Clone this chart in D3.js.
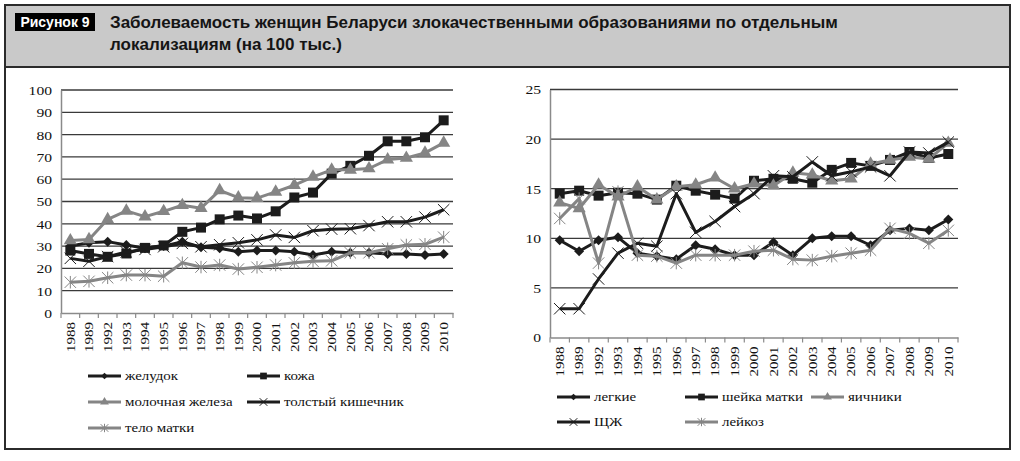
<!DOCTYPE html>
<html><head><meta charset="utf-8">
<script src="https://cdn.jsdelivr.net/npm/d3@7"></script>
<style>body{margin:0;background:#fff}svg{display:block}</style>
</head><body>
<svg id="c" width="1020" height="461"></svg>
<script>
const years = ["1988","1989","1992","1993","1994","1995","1996","1997","1998","1999","2000","2001","2002","2003","2004","2005","2006","2007","2008","2009","2010"];
const leftTicks = [0,10,20,30,40,50,60,70,80,90,100];
const rightTicks = [0,5,10,15,20,25];

// left chart series
const stomach = [30, 31.5, 32, 30.5, 29, 30, 32, 29.5, 29, 27.5, 28, 28, 27.5, 26, 27.5, 27, 27, 26.5, 26.5, 26, 26.5];
const skin = [28, 26.5, 25.2, 26.7, 29.2, 30.3, 36.4, 38.3, 42, 43.7, 42.4, 45.6, 51.8, 54, 62.5, 66, 70.5, 77, 77, 78.8, 86.4];
const breast = [32.5, 33, 42, 45.8, 43.2, 45.6, 48.3, 47, 55, 51.7, 51.5, 54.3, 57.3, 61, 64.2, 64.2, 64.8, 68.8, 69.5, 71.8, 76.3];
const colon = [24.5, 23.2, 25.3, 27.4, 28.5, 29.7, 31.2, 29.7, 30.6, 31.5, 32.8, 35.0, 33.9, 36.9, 37.6, 37.8, 39.2, 40.9, 40.9, 43.0, 46.3];
const uterus = [13.8, 14.2, 15.8, 17, 17, 16.5, 22.5, 20.6, 21.5, 19.7, 20.5, 21.5, 22.5, 23.2, 23.4, 27, 27, 28.8, 30.5, 30.8, 34];

// right chart series
const lung = [9.8, 8.7, 9.8, 10.1, 8.5, 8.2, 7.9, 9.3, 8.9, 8.3, 8.3, 9.6, 8.3, 10.0, 10.2, 10.2, 9.3, 10.8, 11.0, 10.8, 11.9];
const cervix = [14.5, 14.8, 14.3, 14.6, 14.5, 13.9, 15.3, 14.8, 14.4, 14.0, 15.8, 16.0, 16.0, 15.6, 16.9, 17.6, 17.3, 17.9, 18.7, 18.1, 18.5];
const ovary = [13.6, 13.0, 15.4, 14.2, 15.2, 13.9, 15.2, 15.4, 16.1, 15.0, 15.5, 15.3, 16.6, 16.4, 15.8, 16.0, 17.5, 17.9, 18.2, 18.0, 19.6];
const thyroid = [2.9, 2.9, 5.9, 8.5, 9.5, 9.2, 14.5, 10.6, 11.7, 13.2, 14.5, 16.3, 16.2, 17.7, 16.3, 16.7, 17.2, 16.3, 18.7, 18.6, 19.7];
const leuk = [12.0, 14.0, 7.5, 14.7, 8.3, 8.2, 7.5, 8.3, 8.3, 8.3, 8.7, 8.8, 7.9, 7.8, 8.2, 8.5, 8.8, 11.0, 10.5, 9.5, 10.8];

const titleTag = "Рисунок 9";
const titleLines = ["Заболеваемость женщин Беларуси злокачественными образованиями по отдельным", "локализациям (на 100 тыс.)"];

const BLACK = "#1c1c1c", GRAY = "#858585";

// custom marker shapes
const symX = {draw(ctx, s){const h=Math.sqrt(s)/2; ctx.moveTo(-h,-h);ctx.lineTo(h,h);ctx.moveTo(-h,h);ctx.lineTo(h,-h);}};
const symStar = {draw(ctx, s){const h=Math.sqrt(s)/2; ctx.moveTo(-h,-h);ctx.lineTo(h,h);ctx.moveTo(-h,h);ctx.lineTo(h,-h);ctx.moveTo(0,-h*1.1);ctx.lineTo(0,h*1.1);}};
const symDiamond = {draw(ctx, s){const h=Math.sqrt(s)/2; ctx.moveTo(0,-h);ctx.lineTo(h,0);ctx.lineTo(0,h);ctx.lineTo(-h,0);ctx.closePath();}};

const markers = {
  diamond: {type: symDiamond, size: 100, fill: true},
  square: {type: d3.symbolSquare, size: 100, fill: true},
  triangle: {type: d3.symbolTriangle, size: 75, fill: true},
  x: {type: symX, size: 130, fill: false},
  star: {type: symStar, size: 130, fill: false}
};

const svg = d3.select("#c");
const serif = "'Liberation Serif','Times New Roman',serif";
const sans = "'Liberation Sans',Arial,Helvetica,sans-serif";

// frame + title band
svg.append("rect").attr("x",5).attr("y",5).attr("width",1005).attr("height",62).attr("fill","#c9c9c9");
svg.append("rect").attr("x",5).attr("y",5).attr("width",1005).attr("height",444).attr("fill","none").attr("stroke","#2b2b2b").attr("stroke-width",2);
svg.append("line").attr("x1",5).attr("x2",1010).attr("y1",67).attr("y2",67).attr("stroke","#2b2b2b").attr("stroke-width",2);
svg.append("rect").attr("x",15).attr("y",13).attr("width",80).attr("height",18).attr("fill","#000");
svg.append("text").attr("x",55).attr("y",27).attr("text-anchor","middle").attr("fill","#fff")
  .style("font-family",sans).style("font-size","14px").style("font-weight","bold").text(titleTag);
titleLines.forEach((t,i)=>{
  svg.append("text").attr("x",110).attr("y",28+i*22).attr("fill","#151515")
    .style("font-family",sans).style("font-size","17px").style("font-weight","bold").text(t);
});

function chart(opts){
  const g = svg.append("g");
  const x = d3.scaleBand().domain(years).range([opts.x0, opts.x1]);
  const y = d3.scaleLinear().domain([0, opts.max]).range([opts.y0, opts.y1]);
  // gridlines
  g.selectAll(".grid").data(opts.ticks.filter(d=>d>0)).join("line")
    .attr("x1",opts.x0).attr("x2",opts.x1).attr("y1",d=>y(d)).attr("y2",d=>y(d))
    .attr("stroke","#3a3a3a").attr("stroke-width",1.3);
  // y axis
  const ya = g.append("g").attr("transform",`translate(${opts.x0},0)`)
    .call(d3.axisLeft(y).tickValues(opts.ticks).tickSize(0).tickFormat(d3.format("d")));
  ya.select(".domain").attr("stroke","#8a8a8a").attr("stroke-width",1.5);
  ya.selectAll("text").attr("x",0).attr("dy","0.34em")
    .attr("transform","translate(-9,0) scale(1.2,1)")
    .style("font-family",serif).style("font-size","13px").attr("fill","#111");
  // x axis
  const xa = g.append("g").attr("transform",`translate(0,${opts.y0})`)
    .call(d3.axisBottom(x).tickSize(0));
  xa.select(".domain").attr("stroke","#8a8a8a").attr("stroke-width",1.5);
  xa.selectAll("text").attr("y",0).attr("x",0).attr("dy","0.34em").attr("text-anchor","end")
    .attr("transform","translate(0,9) rotate(-90) scale(1.2,1)")
    .style("font-family",serif).style("font-size","12.5px").attr("fill","#111");
  // ticks at category boundaries
  const bounds = years.map(d=>x(d)).concat([opts.x1]);
  g.selectAll(".tk").data(bounds).join("line")
    .attr("x1",d=>d).attr("x2",d=>d).attr("y1",opts.y0).attr("y2",opts.y0+5)
    .attr("stroke","#8a8a8a").attr("stroke-width",1.2);
  // series
  const line = d3.line().x((d,i)=>x(years[i])+x.bandwidth()/2).y(d=>y(d));
  opts.series.forEach(s=>{
    g.append("path").datum(s.values).attr("d",line).attr("fill","none")
      .attr("stroke",s.color).attr("stroke-width",3).attr("stroke-linejoin","round");
    const m = markers[s.marker];
    const sym = d3.symbol().type(m.type).size(m.size);
    g.selectAll(null).data(s.values).join("path")
      .attr("transform",(d,i)=>`translate(${x(years[i])+x.bandwidth()/2},${y(d)})`)
      .attr("d",sym)
      .attr("fill",m.fill? s.mcolor : "none")
      .attr("stroke",m.fill? "none" : s.mcolor)
      .attr("stroke-width",1);
  });
  // legend
  opts.series.forEach(s=>{
    const lx = s.leg[0], ly = s.leg[1];
    const lg = g.append("g");
    lg.append("line").attr("x1",lx).attr("x2",lx+33).attr("y1",ly).attr("y2",ly)
      .attr("stroke",s.color).attr("stroke-width",3);
    const m = markers[s.marker];
    lg.append("path").attr("transform",`translate(${lx+16.5},${ly})`)
      .attr("d",d3.symbol().type(m.type).size(m.size*0.45))
      .attr("fill",m.fill? s.mcolor : "none").attr("stroke",m.fill?"none":s.mcolor).attr("stroke-width",1);
    lg.append("text").attr("transform",`translate(${lx+37},${ly}) scale(1.15,1)`).attr("dy","0.34em")
      .style("font-family",serif).style("font-size","13px").attr("fill","#111").text(s.name);
  });
}

chart({x0:61, x1:453, y0:313, y1:90, max:100, ticks:leftTicks, series:[
  {name:"желудок", values:stomach, color:BLACK, mcolor:BLACK, marker:"diamond", leg:[88,376]},
  {name:"кожа", values:skin, color:BLACK, mcolor:BLACK, marker:"square", leg:[247,376]},
  {name:"молочная железа", values:breast, color:GRAY, mcolor:GRAY, marker:"triangle", leg:[88,402]},
  {name:"толстый кишечник", values:colon, color:BLACK, mcolor:BLACK, marker:"x", leg:[247,402]},
  {name:"тело матки", values:uterus, color:GRAY, mcolor:GRAY, marker:"star", leg:[88,428]}
]});

chart({x0:550, x1:958, y0:337.5, y1:89.5, max:25, ticks:rightTicks, series:[
  {name:"легкие", values:lung, color:BLACK, mcolor:BLACK, marker:"diamond", leg:[557,397]},
  {name:"шейка матки", values:cervix, color:BLACK, mcolor:BLACK, marker:"square", leg:[685,397]},
  {name:"яичники", values:ovary, color:GRAY, mcolor:GRAY, marker:"triangle", leg:[811,397]},
  {name:"ЩЖ", values:thyroid, color:BLACK, mcolor:BLACK, marker:"x", leg:[557,422]},
  {name:"лейкоз", values:leuk, color:GRAY, mcolor:GRAY, marker:"star", leg:[685,422]}
]});
</script>
</body></html>
